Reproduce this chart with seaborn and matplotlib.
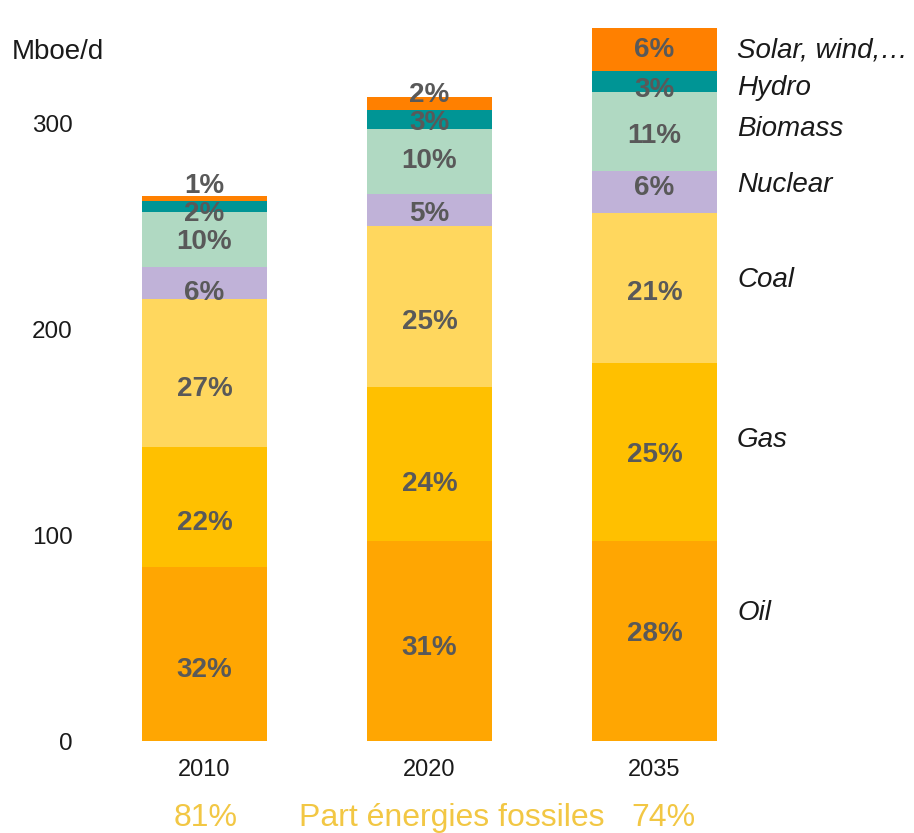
import numpy as np
import pandas as pd
import matplotlib
matplotlib.use("Agg")
import matplotlib.pyplot as plt
import seaborn as sns

# --- data -----------------------------------------------------------------
years = ["2010", "2020", "2035"]
sources = ["Oil", "Gas", "Coal", "Nuclear", "Biomass", "Hydro", "Solar, wind,\u2026"]
totals = [264.6, 312.5, 346.1]          # Mboe/d
shares = {                               # % of each year's total
    "2010": [32, 22, 27, 6, 10, 2, 1],
    "2020": [31, 24, 25, 5, 10, 3, 2],
    "2035": [28, 25, 21, 6, 11, 3, 6],
}
fossil_sources = ["Oil", "Gas", "Coal"]
colors = ["#FFA602", "#FFC000", "#FFD75E", "#C0B2D8", "#B0D9C2", "#009595", "#FF8000"]

# --- styling --------------------------------------------------------------
sns.set_style("white")
plt.rcParams["font.family"] = ["Liberation Sans", "DejaVu Sans"]
label_color = "#595959"

W, H = 914, 833
fig = plt.figure(figsize=(W / 100, H / 100), dpi=100)
ax = fig.add_axes([80.75 / W, 92 / H, 652.5 / W, 721 / H])

# segment values in Mboe/d
seg = pd.DataFrame(
    {y: np.array(shares[y]) / 100 * t for y, t in zip(years, totals)},
    index=sources,
)
cum = seg.cumsum()

# stacked bars: draw cumulative heights from the top layer down
bar_w = 0.556
for i in range(len(sources) - 1, -1, -1):
    d = pd.DataFrame({"year": years, "value": cum.iloc[i].values})
    sns.barplot(data=d, x="year", y="value", order=years, color=colors[i],
                saturation=1, width=bar_w, ax=ax, linewidth=0)

# vertical nudges (pixels, downward) for the percentage labels
label_nudge = {
    "2010": [16, 16, 16, 10, 2, 7, 0],
    "2020": [7, 20, 16, 4, -1, 3, 4],
    "2035": [-7, 3, 5, -4, 5, 8, 1],
}

# percentage labels in each segment
for xi, y in enumerate(years):
    for i, s in enumerate(sources):
        lo = cum[y].iloc[i] - seg[y].iloc[i]
        mid = lo + seg[y].iloc[i] / 2
        if i == len(sources) - 1 and shares[y][i] <= 2:
            mid += 6
        ax.annotate(f"{shares[y][i]}%", xy=(xi, mid),
                    xytext=(0, -label_nudge[y][i]), textcoords="offset pixels",
                    ha="center", va="center", fontsize=20, fontweight="bold",
                    color=label_color)

# source names to the right of the last bar
side_label_y = [62, 146, 224, 270, 297, 317, 335.4]
for s, yy in zip(sources, side_label_y):
    ax.text(2.367, yy, s, ha="left", va="center", fontsize=20,
            style="italic", color="#1a1a1a", clip_on=False)

ax.set_xlim(-0.55, 2.35)
ax.set_ylim(0, 350)
ax.set_yticks([0, 100, 200, 300])
ax.set_xlabel("")
ax.set_ylabel("")
ax.tick_params(axis="y", length=0, pad=6, labelsize=17.5, labelcolor="#1a1a1a")
ax.tick_params(axis="x", length=0, pad=13, labelsize=17, labelcolor="#1a1a1a")
sns.despine(ax=ax, left=True, bottom=True)
ax.grid(False)

fig.text(12 / W, 1 - 52 / H, "Mboe/d", ha="left", va="center",
         fontsize=20, color="#1a1a1a")

# fossil share footer
gold = "#F2C744"
fossil_pct = {y: sum(shares[y][sources.index(f)] for f in fossil_sources) for y in years}
foot_y = 1 - 818 / H
fig.text(206 / W, foot_y, f"{fossil_pct['2010']}%", ha="center", va="center",
         fontsize=23, color=gold)
fig.text(452 / W, foot_y, "Part \u00e9nergies fossiles", ha="center", va="center",
         fontsize=23, color=gold)
fig.text(663 / W, foot_y, f"{fossil_pct['2035']}%", ha="center", va="center",
         fontsize=23, color=gold)

fig.savefig("out.png", dpi=100)
